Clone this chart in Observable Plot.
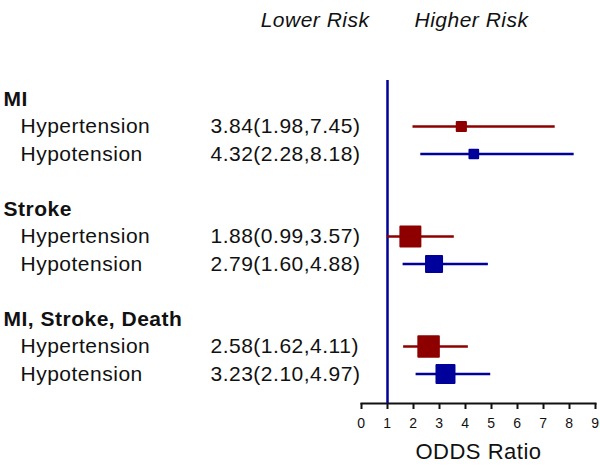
<!DOCTYPE html>
<html>
<head>
<meta charset="utf-8">
<script src="https://cdn.jsdelivr.net/npm/d3@7"></script>
<script src="https://cdn.jsdelivr.net/npm/@observablehq/plot@0.6"></script>
<style>
  html, body { margin: 0; padding: 0; background: #fff; }
</style>
</head>
<body>
<div id="chart"></div>
<script>
// ---- data ----
const groups = ["MI", "Stroke", "MI, Stroke, Death"];
const subgroups = ["Hypertension", "Hypotension"];
const oddsRatio = [3.84, 4.32, 1.88, 2.79, 2.58, 3.23];
const ciLow     = [1.98, 2.28, 0.99, 1.60, 1.62, 2.10];
const ciHigh    = [7.45, 8.18, 3.57, 4.88, 4.11, 4.97];
const weight    = [20, 18, 95, 61, 100, 77];
const xTicks = [0, 1, 2, 3, 4, 5, 6, 7, 8, 9];
const nullValue = 1;
const headerLeft = "Lower Risk";
const headerRight = "Higher Risk";
const axisTitle = "ODDS Ratio";

const RED = "#8e0000";
const BLUE = "#00009a";

// build row table
const headerRows = groups.map((g, gi) => ({row: gi * 4, label: g}));
const items = [];
groups.forEach((g, gi) => {
  subgroups.forEach((s, si) => {
    const k = gi * 2 + si;
    items.push({
      row: gi * 4 + 1 + si,
      group: g,
      sub: s,
      or: oddsRatio[k],
      lo: ciLow[k],
      hi: ciHigh[k],
      weight: weight[k],
      value: `${oddsRatio[k].toFixed(2)}(${ciLow[k].toFixed(2)},${ciHigh[k].toFixed(2)})`
    });
  });
});

const chart = Plot.plot({
  width: 600,
  height: 468,
  marginLeft: 361,
  marginRight: 5,
  marginTop: 80,
  marginBottom: 65,
  style: {
    fontFamily: "'Liberation Sans', Arial, sans-serif",
    letterSpacing: "0.5px",
    color: "#111",
    background: "#fff",
    overflow: "visible"
  },
  x: {domain: [0, 9], axis: null},
  y: {domain: [-0.673, 11.073], reverse: true, axis: null},
  color: {domain: subgroups, range: [RED, BLUE]},
  r: {type: "sqrt", domain: [0, 100], range: [0, 11.57]},
  marks: [
    Plot.frame({anchor: "bottom", strokeWidth: 2, stroke: "#111"}),
    Plot.axisX({ticks: xTicks, tickSize: 6, tickFormat: () => "", label: null, stroke: "#111", strokeWidth: 2}),
    Plot.text(xTicks, {x: d => d, text: d => String(d), frameAnchor: "bottom", dy: 24, fontSize: 14, fill: "#111"}),
    Plot.ruleX([nullValue], {stroke: BLUE, strokeWidth: 2.5}),
    Plot.ruleY(items, {y: "row", x1: "lo", x2: "hi", stroke: "sub", strokeWidth: 2.3}),
    Plot.dot(items, {x: "or", y: "row", r: "weight", symbol: "square", fill: "sub", stroke: "sub", strokeWidth: 2, strokeLinejoin: "round"}),
    // left-hand labels
    Plot.text(headerRows, {y: "row", text: "label", frameAnchor: "left", dx: -358, textAnchor: "start", fontSize: 21, fontWeight: "bold", fill: "#111"}),
    Plot.text(items, {y: "row", text: "sub", frameAnchor: "left", dx: -341, textAnchor: "start", fontSize: 21, fill: "#111"}),
    Plot.text(items, {y: "row", text: "value", frameAnchor: "left", dx: -151, textAnchor: "start", fontSize: 21, fill: "#111"}),
    // headers
    Plot.text([headerLeft], {x: () => nullValue, text: d => d, frameAnchor: "top", dy: -68, dx: -18, textAnchor: "end", fontSize: 21, fontStyle: "italic", fill: "#111"}),
    Plot.text([headerRight], {x: () => nullValue, text: d => d, frameAnchor: "top", dy: -68, dx: 27, textAnchor: "start", fontSize: 21, fontStyle: "italic", fill: "#111"}),
    // axis title
    Plot.text([axisTitle], {text: d => d, frameAnchor: "bottom", dy: 55, fontSize: 22, fill: "#111"})
  ]
});

document.getElementById("chart").appendChild(chart);
</script>
</body>
</html>
